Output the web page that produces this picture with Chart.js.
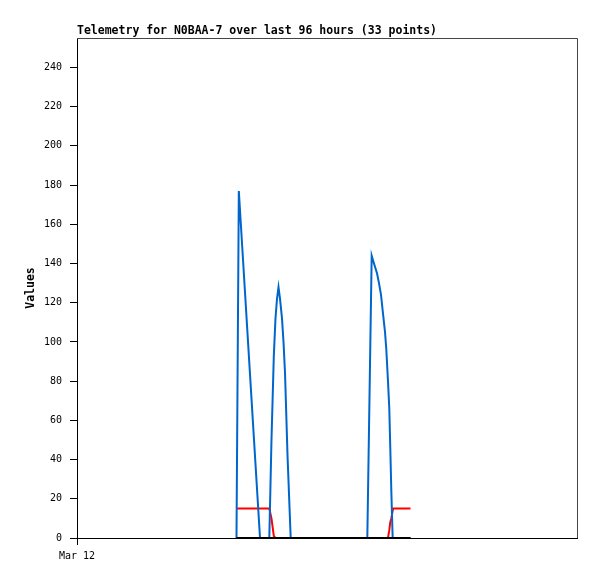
<!DOCTYPE html>
<html>
<head>
<meta charset="utf-8">
<script src="https://cdn.jsdelivr.net/npm/chart.js@4.4.1/dist/chart.umd.min.js"></script>
<style>
  html, body { margin: 0; padding: 0; background: #fff; }
  canvas { display: block; }
</style>
</head>
<body>
<canvas id="telemetry" width="597" height="579"></canvas>
<script>
const TITLE = 'Telemetry for N0BAA-7 over last 96 hours (33 points)';

// hours since the start of the 96 hour window
const hours = [
  30.62, 31.07, 33.02, 35.14, 36.92, 37.34, 37.79, 38.11, 38.40, 38.69, 38.98,
  39.36, 39.65, 39.94, 40.42, 41.03, 48.58, 55.74, 56.58, 57.02, 57.60, 57.98,
  58.37, 58.81, 59.14, 59.39, 59.71, 59.96, 60.15, 60.35, 60.61, 60.73, 64.03,
];

const blueValues = [
  0, 177, 92, 0, 0, 50, 93, 112, 122, 128, 122,
  112, 100, 84, 42, 0, 0, 0, 144, 140, 135, 130,
  124, 113, 105, 96, 80, 66, 46, 24, 0, 0, 0,
];

const redValues = [
  15, 15, 15, 15, 15, 10, 1, 0, 0, 0, 0,
  0, 0, 0, 0, 0, 0, 0, 0, 0, 0, 0,
  0, 0, 0, 0, 0, 4, 8, 10, 14, 15, 15,
];

const blackValues = hours.map(() => 0);

const yTicks = [0, 20, 40, 60, 80, 100, 120, 140, 160, 180, 200, 220, 240];
const xTickHours = [0];
const xTickLabels = ['Mar 12'];

const MONO = "'DejaVu Sans Mono', 'Liberation Mono', monospace";

const toPoints = (values) => values.map((v, i) => ({ x: hours[i], y: v }));

const frameAndTitle = {
  id: 'frameAndTitle',
  afterDraw(chart) {
    const { ctx, chartArea } = chart;
    ctx.save();
    ctx.strokeStyle = '#444';
    ctx.lineWidth = 1;
    ctx.beginPath();
    ctx.moveTo(chartArea.left, chartArea.top + 0.5);
    ctx.lineTo(chartArea.right + 0.5, chartArea.top + 0.5);
    ctx.lineTo(chartArea.right + 0.5, chartArea.bottom);
    ctx.stroke();

    ctx.fillStyle = '#000';
    ctx.font = `bold 11.5px ${MONO}`;
    ctx.textAlign = 'left';
    ctx.textBaseline = 'alphabetic';
    ctx.fillText(TITLE, chartArea.left, chartArea.top - 4);
    ctx.restore();
  },
};

new Chart(document.getElementById('telemetry'), {
  type: 'line',
  data: {
    datasets: [
      {
        data: toPoints(blackValues),
        borderColor: '#000',
        borderWidth: 2,
        order: 0,
      },
      {
        data: toPoints(blueValues),
        borderColor: '#0066cc',
        borderWidth: 2,
        order: 1,
      },
      {
        data: toPoints(redValues),
        borderColor: '#ff0000',
        borderWidth: 2,
        order: 2,
      },
    ],
  },
  options: {
    responsive: false,
    animation: false,
    events: [],
    layout: { padding: { top: 38, right: 20, bottom: 0, left: 0 } },
    elements: {
      point: { radius: 0 },
      line: { tension: 0, fill: false },
    },
    plugins: {
      legend: { display: false },
      tooltip: { enabled: false },
      title: { display: false },
    },
    scales: {
      x: {
        type: 'linear',
        min: 0,
        max: 96,
        afterBuildTicks: (scale) => {
          scale.ticks = xTickHours.map((v) => ({ value: v }));
        },
        afterFit: (scale) => {
          scale.height = 41;
        },
        ticks: {
          autoSkip: false,
          maxRotation: 0,
          padding: 5,
          color: '#000',
          font: { family: MONO, size: 10 },
          callback: (value) => xTickLabels[xTickHours.indexOf(value)],
        },
        grid: {
          drawOnChartArea: false,
          tickLength: 7,
          color: '#000',
        },
        border: { display: true, color: '#000', width: 1 },
      },
      y: {
        min: 0,
        max: 255,
        afterBuildTicks: (scale) => {
          scale.ticks = yTicks.map((v) => ({ value: v }));
        },
        afterFit: (scale) => {
          scale.width = 77;
        },
        ticks: {
          padding: 8,
          color: '#000',
          font: { family: MONO, size: 10 },
        },
        grid: {
          drawOnChartArea: false,
          tickLength: 7,
          color: '#000',
        },
        border: { display: true, color: '#000', width: 1 },
        title: {
          display: true,
          text: 'Values',
          color: '#000',
          font: { family: MONO, size: 11.5, weight: 'bold' },
          padding: { top: 24, bottom: 0 },
        },
      },
    },
  },
  plugins: [frameAndTitle],
});
</script>
</body>
</html>
